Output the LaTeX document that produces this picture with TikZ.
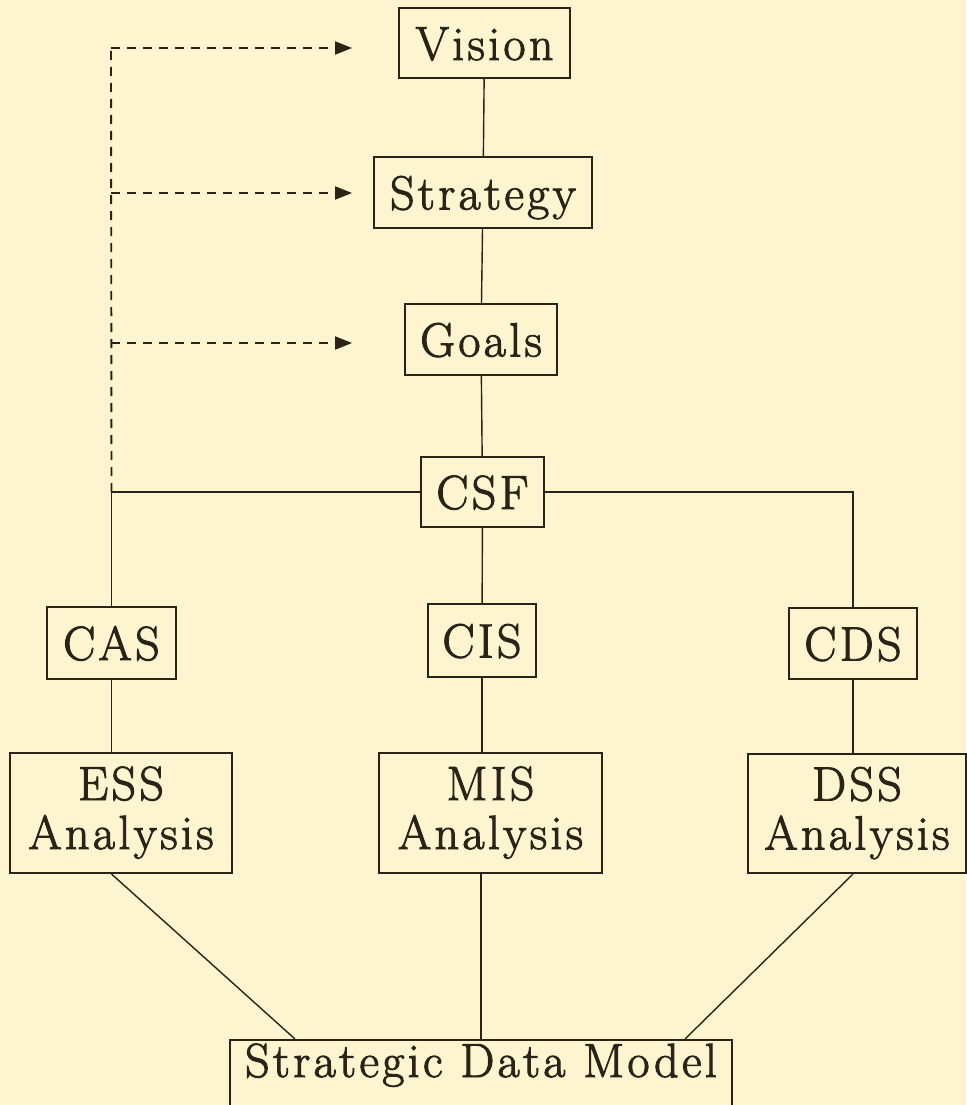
\documentclass[tikz,border=0pt]{standalone}
\usepackage{fontspec}
\setmainfont{Latin Modern Roman}[LetterSpace=7,FakeBold=2]
\usetikzlibrary{arrows.meta,calc}
\definecolor{bgpaper}{HTML}{FCF5CF}
\definecolor{ink}{HTML}{2A2418}
\tikzset{
  box/.style={draw=ink, line width=2pt, text=ink, inner sep=0pt, align=center,
    text height=34pt, text depth=0pt},
  twobox/.style={box, text height=83pt, text depth=11pt},
  conn/.style={draw=ink, line width=1.4pt},
  dashconn/.style={draw=ink, line width=1.9pt, dash pattern=on 9pt off 7pt},
  dasharrow/.style={dashconn, -{Triangle[length=17pt,width=13pt]}}
}
\begin{document}
\begin{tikzpicture}[x=1pt, y=-1pt, font=\fontsize{48pt}{49pt}\selectfont]
\fill[bgpaper] (0,0) rectangle (966,1105);
\useasboundingbox (0,0) rectangle (966,1105);

\node[box, minimum width=171pt, minimum height=70pt] (vision) at (484.5,43) {Vision};
\node[box, minimum width=218pt, minimum height=71pt] (strategy) at (483,192.5) {Strategy};
\node[box, minimum width=152pt, minimum height=71pt] (goals) at (481,339.5) {Goals};
\node[box, minimum width=123pt, minimum height=70pt] (csf) at (482.5,492) {CSF};
\node[box, minimum width=129pt, minimum height=72pt] (cas) at (111.5,643) {CAS};
\node[box, minimum width=108pt, minimum height=73pt] (cis) at (482,640.5) {CIS};
\node[box, minimum width=128pt, minimum height=71pt] (cds) at (853,643.5) {CDS};
\node[twobox, minimum width=222pt, minimum height=120pt] (ess) at (121,813) {ESS\\Analysis};
\node[twobox, minimum width=223pt, minimum height=120pt] (mis) at (490.5,813) {MIS\\Analysis};
\node[twobox, minimum width=218pt, minimum height=119pt] (dss) at (857,813.5) {DSS\\Analysis};
\node[box, anchor=north, minimum width=502pt, text height=33pt, text depth=47pt, inner ysep=4pt] (sdm) at (481,1039) {Strategic Data Model};

% solid connectors
\draw[conn] (vision) -- (strategy);
\draw[conn] (strategy) -- (goals);
\draw[conn] (goals) -- (csf);
\draw[conn] (csf) -- (cis);
\draw[conn] (cis.south) -- (cis.south |- mis.north);
\coordinate (j) at (cas.north |- csf.west);
\draw[conn] (csf.west) -- (j) -- (cas.north);
\draw[conn] (csf.east) -| (cds.north);
\draw[conn] (cas.south) -- (cas.south |- ess.north);
\draw[conn] (cds.south) -- (cds.south |- dss.north);
\draw[conn] (sdm.north) -- (sdm.north |- mis.south);
\draw[conn] (ess.south -| cas.south) -- ([xshift=66pt]sdm.north west);
\draw[conn] (dss.south -| cds.south) -- ([xshift=-48pt]sdm.north east);

% dashed feedback
\coordinate (top) at (111,48);
\coordinate (av) at (352,48);
\coordinate (as) at (352,193);
\coordinate (ag) at (352,343);
\draw[dashconn] (j) -- (top);
\draw[dasharrow] (top) -- (av);
\draw[dasharrow] (top |- as) -- (as);
\draw[dasharrow] (top |- ag) -- (ag);
\end{tikzpicture}
\end{document}
